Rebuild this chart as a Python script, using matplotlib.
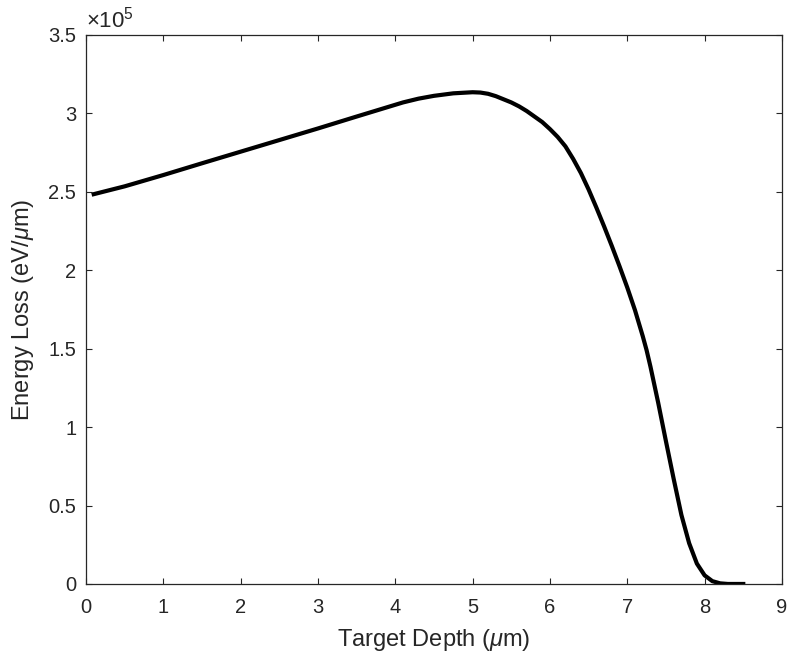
import matplotlib
matplotlib.use("Agg")
import matplotlib.pyplot as plt
from matplotlib.ticker import FuncFormatter

plt.rcParams['font.family'] = ['Liberation Sans', 'DejaVu Sans']
plt.rcParams['mathtext.fontset'] = 'custom'
plt.rcParams['mathtext.rm'] = 'Liberation Sans'
plt.rcParams['mathtext.it'] = 'Liberation Sans:italic'

# values (energy loss in units of 1e5 eV/um)
depth = [0.1, 0.5, 1.0, 1.5, 2.0, 2.5, 3.0, 3.5, 3.9, 4.1, 4.3, 4.5, 4.75,
         5.0, 5.1, 5.2, 5.3, 5.4, 5.5, 5.6, 5.7, 5.8, 5.9, 6.0, 6.1, 6.2,
         6.3, 6.4, 6.5, 6.6, 6.7, 6.8, 6.9, 7.0, 7.1, 7.2, 7.25, 7.3, 7.4,
         7.5, 7.6, 7.7, 7.8, 7.9, 8.0, 8.1, 8.2, 8.3, 8.5]
loss = [2.485, 2.535, 2.607, 2.682, 2.756, 2.83, 2.904, 2.98, 3.04, 3.07,
        3.094, 3.112, 3.128, 3.135, 3.133, 3.125, 3.11, 3.09, 3.07, 3.045,
        3.015, 2.98, 2.945, 2.90, 2.85, 2.79, 2.71, 2.62, 2.515, 2.40, 2.28,
        2.155, 2.025, 1.89, 1.745, 1.58, 1.49, 1.385, 1.155, 0.91, 0.67,
        0.44, 0.26, 0.13, 0.055, 0.018, 0.004, 0.0, 0.0]
loss = [v * 1e5 for v in loss]

xticks = list(range(0, 10))
yticks = [i * 0.5e5 for i in range(8)]

dark = '#262626'

fig = plt.figure(figsize=(7.88, 6.6), dpi=100)
ax = fig.add_axes([0.1091, 0.1152, 0.8832, 0.8318])

ax.plot(depth, loss, color='black', lw=3.0, solid_joinstyle='round')

ax.set_xlim(0, 9)
ax.set_ylim(0, 3.5e5)
ax.set_xticks(xticks)
ax.set_yticks(yticks)
ax.yaxis.set_major_formatter(FuncFormatter(lambda v, p: f"{v / 1e5:g}"))

ax.tick_params(direction='in', length=4.5, width=0.8, top=True, right=True,
               labelsize=14.5, colors=dark)
ax.tick_params(axis='x', pad=10)
ax.tick_params(axis='y', pad=7)
for s in ax.spines.values():
    s.set_color(dark)
    s.set_linewidth(0.9)

ax.set_xlabel(r'Target Depth ($\mu$m)', fontsize=17, color=dark, labelpad=7)
ax.set_ylabel(r'Energy Loss (eV/$\mu$m)', fontsize=17, color=dark, labelpad=9)
ax.text(0.0, 1.005, r'$\times10^{5}$', transform=ax.transAxes, fontsize=16,
        color=dark, ha='left', va='bottom')

fig.savefig('out.png', dpi=100)
